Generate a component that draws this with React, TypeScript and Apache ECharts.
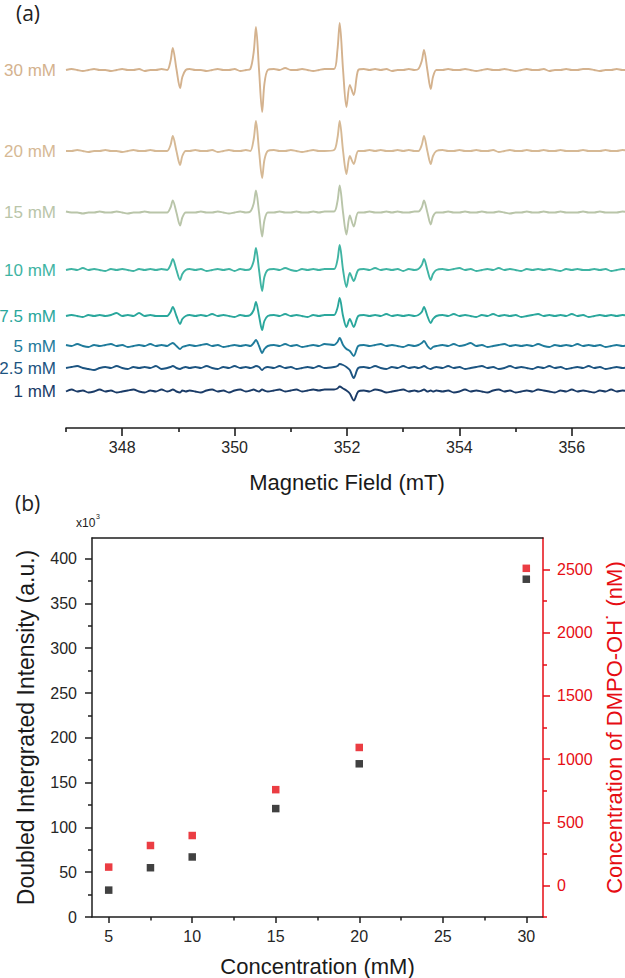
import React, { useEffect, useRef } from 'react';
import * as echarts from 'echarts';

// ---------- Panel (a): EPR spectra ----------
const FIELD_MT = [
  347.0, 347.1, 347.2, 347.3, 347.4, 347.5, 347.6, 347.7, 347.8, 347.9, 348.0, 348.1, 348.2, 348.3, 348.4, 348.5, 348.6, 348.7,
  348.8, 348.86, 348.9, 348.965, 349.03, 349.07, 349.13,
  349.2, 349.3, 349.4, 349.5, 349.6, 349.7, 349.8, 349.9, 350.0, 350.1, 350.2,
  350.28, 350.34, 350.38, 350.435, 350.49, 350.53, 350.59,
  350.7, 350.8, 350.9, 351.0, 351.1, 351.2, 351.3, 351.4, 351.5, 351.6,
  351.77, 351.83, 351.87, 351.93, 351.99, 352.05, 352.12, 352.2,
  352.3, 352.4, 352.5, 352.6, 352.7, 352.8, 352.9, 353.0, 353.1, 353.2,
  353.27, 353.33, 353.37, 353.43, 353.49, 353.53, 353.59,
  353.7, 353.8, 353.9, 354.0, 354.1, 354.2, 354.3, 354.4, 354.5, 354.6, 354.7, 354.8, 354.9,
  355.0, 355.1, 355.2, 355.3, 355.4, 355.5, 355.6, 355.7, 355.8, 355.9,
  356.0, 356.1, 356.2, 356.3, 356.4, 356.5, 356.6, 356.7, 356.8, 356.9, 357.0,
];

const AMP_30MM = [
  0, 1, 0, -1, 0, 1, 0, 0, -1, 0, 1, 0, 0, 1, -1, 0, 0, 1,
  0, 9, 22, 1, -18, -7, 0,
  1, 0, 0, -1, 0, 1, 0, 0, 1, -1, 0,
  1, 18, 43, 0, -42, -14, 0,
  1, 0, 2, 0, 0, 1, 0, -1, 0, 1,
  1, 20, 47, 0, -37, -15, -25, 0,
  1, 0, 1, 0, 1, -1, 0, 0, 1, 0,
  1, 9, 20, 0, -19, -7, 0,
  0, 1, 0, 0, 1, 0, -1, 0, 1, 0, 0, 1, 0, -1, 0, 1, 0, 0, 1, -1, 0, 0, 1, 0, 0, 1, 1, 0, -1, 0, 0, 1, 0, 0,
];
const AMP_20MM = [
  0, 0, 1, 0, -1, 0, 0, 1, 0, 0, -1, 0, 1, 0, 0, 1, 0, 0,
  0, 6, 15, 0, -14, -5, 0,
  0, 1, 0, 0, 1, -1, 0, 1, 0, 0, 1,
  0, 12, 30, 0, -27, -9, 0,
  1, 0, 0, 1, 0, -1, 0, 1, 0, 0,
  1, 13, 30, 0, -23, -5, -13, 0,
  0, 1, 0, 1, 0, 0, 1, 0, 1, 0,
  0, 6, 15, 0, -13, -5, 0,
  1, 0, 0, 1, 0, 0, 1, 0, 0, 1, -1, 0, 1, 0, 0, 1, 0, 0, 1, 0, 0, 1, 0, 0, 0, 1, 0, 0, 0, 1, 0, 0, 1, 0,
];
const AMP_15MM = [
  1, 0, 0, -1, 0, 0, 1, 0, 0, 1, 0, -1, 0, 0, 1, 0, 0, 0,
  0, 5, 12, 0, -13, -5, 0,
  0, 0, 1, 0, 0, 1, 0, -1, 0, 1, 0,
  1, 9, 22, 0, -24, -8, 0,
  0, 1, 0, 0, 1, 0, 0, 1, 0, 1,
  1, 11, 27, 0, -22, -3, -14, 0,
  0, 1, 0, 0, 1, 0, 1, 0, 0, 1,
  1, 5, 12, 0, -12, -4, 0,
  0, 1, 0, 0, 1, 0, 0, 1, 0, 0, 1, 0, -1, 0, 0, 1, 0, 0, 1, 0, 0, 1, 0, 0, 0, 1, 0, 0, 1, 0, 0, 0, 1, 0,
];
const AMP_10MM = [
  0, 1, 0, 2, 0, 1, 0, -1, 1, 0, 1, 0, -1, 1, 0, 1, 0, 1,
  0, 5, 11, 0, -10, -4, 0,
  1, 0, 1, -1, 0, 1, 0, 1, -1, 1, 0,
  1, 9, 22, 0, -21, -7, 0,
  1, 0, 2, 0, -1, 1, 0, 1, 0, 1,
  1, 10, 25, 0, -17, -3, -11, 0,
  1, 0, 2, 0, 1, 0, 1, -1, 1, 0,
  1, 5, 11, 0, -10, -4, 0,
  1, 0, 1, 2, 0, 1, -1, 0, 1, 0, 2, 0, 1, 0, -1, 1, 0, 1, 0, 1, 0, -1, 1, 0, 1, 0, 0, 1, 0, 1, -1, 0, 1, 0,
];
const AMP_7_5MM = [
  0, 1, 0, -1, 1, 0, 1, 0, 1, 3, 0, 1, 0, 3, 0, 1, 0, 0,
  0, 4, 9, 0, -8, -3, 0,
  1, 0, 1, 0, 2, 0, 1, 0, -1, 1, 0,
  1, 6, 14, 0, -14, -5, 0,
  1, 0, 2, 0, 1, 0, -1, 1, 0, 1,
  1, 8, 18, 0, -11, -3, -11, 0,
  1, 0, 1, 0, 2, 0, 1, 0, 1, 0,
  1, 4, 9, 0, -7, -3, 0,
  1, 0, 2, 0, 1, 0, -1, 1, 0, 2, 0, 1, 0, 1, -1, 0, 1, 2, 0, 1, 0, 1, 0, 2, 0, 1, -1, 0, 1, 0, 1, 0, 1, 0,
];
const AMP_5MM = [
  1, 0, 2, 0, -1, 1, 0, 1, 2, 0, 1, -1, 0, 1, 0, 2, 0, 1,
  0, 2, 3, 0, -3, -1, 0,
  1, 0, 1, 2, 0, 1, -1, 0, 1, 0, 1,
  0, 3, 6, 0, -7, -3, 0,
  1, 0, 2, 0, 1, -1, 0, 1, 0, 2,
  1, 4, 8, 1, -3, -5, -10, 0,
  1, 0, 1, 2, 0, 1, 0, -1, 1, 0,
  1, 3, 5, 0, -3, -1, 0,
  1, 0, 2, 0, 1, 3, 0, 1, -1, 0, 1, 2, 0, 1, 0, 1, 0, 2, 0, -1, 1, 0, 1, 0, 2, 0, 1, 0, 1, -1, 0, 1, 0, 1,
];
const AMP_2_5MM = [
  0, 1, 2, 0, -1, -2, 0, 1, 0, 2, 0, -1, 1, 0, 1, 0, 2, -1,
  0, 1, 2, 0, -1, 0, 1,
  0, 1, 0, 2, 0, -1, 1, 0, 2, 0, 1,
  0, 1, 2, 1, -2, 0, 1,
  0, 2, 0, 1, -1, 0, 1, 0, 2, 0,
  1, 2, 4, 3, 1, -2, -10, 0,
  1, 0, 2, 0, -1, 1, 0, 2, 0, 1,
  0, 1, 2, 0, -1, 0, 1,
  0, 2, 0, 1, -1, 0, 1, 2, 0, 1, -1, 0, 2, 0, 1, 0, -1, 1, 0, 2, 0, 1, -1, 0, 1, 0, 2, 0, 1, -1, 0, 1, 0, 1,
];
const AMP_1MM = [
  0, 2, 0, 1, -1, 0, 2, 0, 1, -1, 0, 1, 2, 0, -1, 1, 0, 2,
  0, 1, 2, 0, -1, 1, 0,
  1, 0, -1, 1, 2, 0, 1, -1, 1, 2, 0,
  1, 2, 1, 0, 2, 1, 0,
  1, 2, 0, 1, 2, 0, 1, 2, 1, 2,
  2, 3, 5, 3, 1, -2, -9, 0,
  1, 0, 2, 1, -1, 0, 1, 2, 0, 1,
  0, 1, 2, 0, 1, 0, 1,
  0, 1, -1, 0, 2, 0, 1, 0, -1, 1, 2, 0, 1, -1, 0, 1, 0, 2, 1, 0, -1, 1, 0, 2, 0, 1, 0, -1, 1, 0, 2, 0, 1, 0,
];

const TRACE_LABELS = ['30 mM', '20 mM', '15 mM', '10 mM', '7.5 mM', '5 mM', '2.5 mM', '1 mM'];
const TRACE_AMPS = [AMP_30MM, AMP_20MM, AMP_15MM, AMP_10MM, AMP_7_5MM, AMP_5MM, AMP_2_5MM, AMP_1MM];
const FIELD_LABEL_TICKS = [348, 350, 352, 354, 356];
const FIELD_MINOR_TICKS = [347, 349, 351, 353, 355, 357];

// ---------- Panel (b): intensity vs concentration ----------
const CONC_MM = [5, 7.5, 10, 15, 20, 30];
const INTENSITY_X1000 = [30, 55, 67, 121, 171, 377];
const DMPO_OH_NM = [145, 316, 395, 758, 1092, 2510];
const CONC_TICKS = [5, 10, 15, 20, 25, 30];
const CONC_MINOR_TICKS = [7.5, 12.5, 17.5, 22.5, 27.5];
const INTENSITY_TICKS = [0, 50, 100, 150, 200, 250, 300, 350, 400];
const INTENSITY_MINOR_TICKS = [25, 75, 125, 175, 225, 275, 325, 375];
const NM_TICKS = [0, 500, 1000, 1500, 2000, 2500];
const NM_MINOR_TICKS = [-250, 250, 750, 1250, 1750, 2250];

// ---------- styles / layout ----------
const TRACE_COLORS = ['#d4b28e', '#d6b995', '#b9c5a9', '#3fb4a3', '#2aa79c', '#1f7b9b', '#1c5481', '#1a3b67'];
const TRACE_OFFSETS = [358, 277, 215.5, 158, 112, 82, 60, 36.5];
const TOP_GRID = { left: 66, top: 20, width: 562, height: 408, outerBoundsMode: 'none', containLabel: false };
const BOT_GRID = { left: 92, top: 538, width: 451, height: 379, outerBoundsMode: 'none', containLabel: false };
const FONT = "'Liberation Sans', Arial, Helvetica, sans-serif";
const DARK = '#1e1e1e';
const RED = '#e60d14';
const plain = (v: number) => String(v);

function buildOption() {
  const gridBottomY = TOP_GRID.top + TOP_GRID.height;
  const lineSeries = TRACE_AMPS.map((amp, k) => ({
    type: 'line',
    name: TRACE_LABELS[k],
    xAxisIndex: 0,
    yAxisIndex: 0,
    data: FIELD_MT.map((f, i) => [f, TRACE_OFFSETS[k] + amp[i]]),
    symbol: 'none',
    smooth: 0.3,
    silent: true,
    lineStyle: { color: TRACE_COLORS[k], width: 1.9 },
    z: 3,
  }));

  const labelTexts = TRACE_LABELS.map((t, k) => ({
    type: 'text',
    x: 56,
    y: gridBottomY - TRACE_OFFSETS[k],
    style: {
      text: t,
      fill: TRACE_COLORS[k],
      font: `17px ${FONT}`,
      align: 'right',
      verticalAlign: 'middle',
    },
  }));

  const noSplit = { show: false };
  const tickFont = { fontSize: 16, color: '#262626', fontFamily: FONT, formatter: plain };

  return {
    animation: false,
    backgroundColor: '#ffffff',
    grid: [TOP_GRID, BOT_GRID],
    xAxis: [
      {
        gridIndex: 0, type: 'value', min: 347, max: 357, position: 'bottom',
        axisLine: { show: true, onZero: false, lineStyle: { color: DARK, width: 1.6 } },
        axisTick: { show: true, customValues: FIELD_LABEL_TICKS, length: 8, lineStyle: { color: DARK, width: 1.6 } },
        axisLabel: { show: true, customValues: FIELD_LABEL_TICKS, margin: 11, ...tickFont },
        splitLine: noSplit,
        name: 'Magnetic Field (mT)', nameLocation: 'middle', nameGap: 43,
        nameTextStyle: { fontSize: 22, color: '#1a1a1a', fontFamily: FONT },
      },
      {
        gridIndex: 0, type: 'value', min: 347, max: 357, position: 'bottom',
        axisLine: { show: false, onZero: false },
        axisTick: { show: true, customValues: FIELD_MINOR_TICKS, length: 4, lineStyle: { color: DARK, width: 1.6 } },
        axisLabel: { show: false },
        splitLine: noSplit,
      },
      {
        gridIndex: 1, type: 'value', min: 4, max: 31, position: 'bottom',
        axisLine: { show: true, onZero: false, lineStyle: { color: DARK, width: 1.5 } },
        axisTick: { show: true, customValues: CONC_TICKS, length: 6, lineStyle: { color: DARK, width: 1.5 } },
        axisLabel: { show: true, customValues: CONC_TICKS, margin: 11, ...tickFont },
        splitLine: noSplit,
        name: 'Concentration (mM)', nameLocation: 'middle', nameGap: 38,
        nameTextStyle: { fontSize: 22, color: '#1a1a1a', fontFamily: FONT },
      },
      {
        gridIndex: 1, type: 'value', min: 4, max: 31, position: 'bottom',
        axisLine: { show: false, onZero: false },
        axisTick: { show: true, customValues: CONC_MINOR_TICKS, length: 3.5, lineStyle: { color: DARK, width: 1.5 } },
        axisLabel: { show: false },
        splitLine: noSplit,
      },
      {
        gridIndex: 1, type: 'value', min: 4, max: 31, position: 'top',
        axisLine: { show: true, onZero: false, lineStyle: { color: DARK, width: 1.5 } },
        axisTick: { show: false },
        axisLabel: { show: false },
        splitLine: noSplit,
      },
    ],
    yAxis: [
      { gridIndex: 0, type: 'value', min: 0, max: TOP_GRID.height, show: false, splitLine: noSplit },
      {
        gridIndex: 1, type: 'value', min: 0, max: 423, position: 'left',
        axisLine: { show: true, onZero: false, lineStyle: { color: DARK, width: 1.5 } },
        axisTick: { show: true, customValues: INTENSITY_TICKS, length: 7, lineStyle: { color: DARK, width: 1.5 } },
        axisLabel: { show: true, customValues: INTENSITY_TICKS, margin: 15, ...tickFont },
        splitLine: noSplit,
        name: 'Doubled Intergrated Intensity (a.u.)', nameLocation: 'middle', nameRotate: 90, nameGap: 55,
        nameTextStyle: { fontSize: 23, color: '#1a1a1a', fontFamily: FONT },
      },
      {
        gridIndex: 1, type: 'value', min: -250, max: 2750, position: 'right',
        axisLine: { show: true, onZero: false, lineStyle: { color: RED, width: 1.5 } },
        axisTick: { show: true, customValues: NM_TICKS, length: 7, lineStyle: { color: RED, width: 1.5 } },
        axisLabel: { show: true, customValues: NM_TICKS, margin: 14, fontSize: 16, color: RED, fontFamily: FONT, formatter: plain },
        splitLine: noSplit,
        name: 'Concentration of DMPO-OH˙ (nM)', nameLocation: 'middle', nameRotate: 90, nameGap: 46,
        nameTextStyle: { fontSize: 22, color: RED, fontFamily: FONT },
      },
      {
        gridIndex: 1, type: 'value', min: 0, max: 423, position: 'left',
        axisLine: { show: false, onZero: false },
        axisTick: { show: true, customValues: INTENSITY_MINOR_TICKS, length: 4, lineStyle: { color: DARK, width: 1.5 } },
        axisLabel: { show: false },
        splitLine: noSplit,
      },
      {
        gridIndex: 1, type: 'value', min: -250, max: 2750, position: 'right',
        axisLine: { show: false, onZero: false },
        axisTick: { show: true, customValues: NM_MINOR_TICKS, length: 4, lineStyle: { color: RED, width: 1.5 } },
        axisLabel: { show: false },
        splitLine: noSplit,
      },
    ],
    series: [
      ...lineSeries,
      {
        type: 'scatter', name: 'intensity', xAxisIndex: 2, yAxisIndex: 1,
        data: CONC_MM.map((c, i) => [c, INTENSITY_X1000[i]]),
        symbol: 'rect', symbolSize: 7.5, itemStyle: { color: '#111111' }, silent: true, z: 4,
      },
      {
        type: 'scatter', name: 'dmpo', xAxisIndex: 2, yAxisIndex: 2,
        data: CONC_MM.map((c, i) => [c, DMPO_OH_NM[i]]),
        symbol: 'rect', symbolSize: 7.5, itemStyle: { color: RED }, silent: true, z: 4,
      },
    ],
    graphic: [
      ...labelTexts,
      { type: 'text', x: 16, y: 13, style: { text: '(a)', fill: '#222', font: `21px 'Open Sans', ${FONT}`, align: 'left', verticalAlign: 'middle' } },
      { type: 'text', x: 15, y: 503, style: { text: '(b)', fill: '#222', font: `21px 'Open Sans', ${FONT}`, align: 'left', verticalAlign: 'middle' } },
      { type: 'text', x: 76, y: 523, style: { text: 'x10', fill: '#222', font: `12px ${FONT}`, align: 'left', verticalAlign: 'middle' } },
      { type: 'text', x: 96, y: 516, style: { text: '3', fill: '#222', font: `7px ${FONT}`, align: 'left', verticalAlign: 'middle' } },
    ],
  };
}

export default function App() {
  const ref = useRef<HTMLDivElement>(null);
  useEffect(() => {
    if (!ref.current) return;
    const chart = echarts.init(ref.current, null, { renderer: 'svg' });
    chart.setOption(buildOption() as any);
    return () => chart.dispose();
  }, []);
  return (
    <div
      ref={ref}
      style={{ position: 'absolute', left: 0, top: 0, width: 625, height: 978, background: '#fff' }}
    />
  );
}
